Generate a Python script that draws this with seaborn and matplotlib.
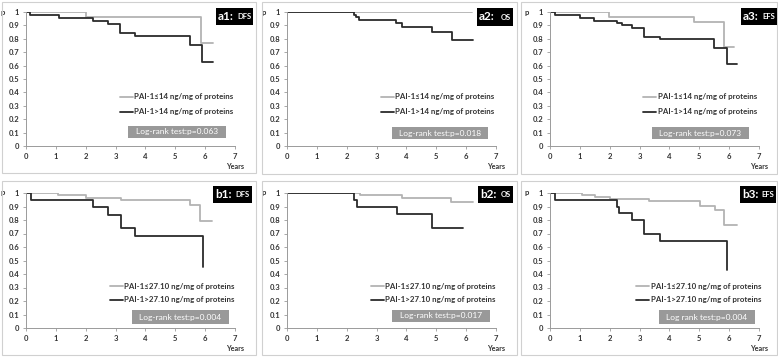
import matplotlib
matplotlib.use('Agg')
import matplotlib.pyplot as plt
from matplotlib.patches import Rectangle
import pandas as pd
import seaborn as sns

sns.set_style('white')
plt.rcParams['font.family'] = ['Lato', 'DejaVu Sans']

# Kaplan-Meier step curves (time in years, survival p)
a1_low_t = [0, 2.0, 5.85, 6.25]
a1_low_s = [1, 0.965, 0.77, 0.77]
a1_high_t = [0, 0.15, 1.1, 2.25, 2.75, 3.15, 3.65, 5.5, 5.9, 6.25]
a1_high_s = [1, 0.975, 0.955, 0.93, 0.91, 0.84, 0.82, 0.755, 0.63, 0.63]

a2_low_t = [0, 6.2]
a2_low_s = [1, 1]
a2_high_t = [0, 2.26, 2.32, 2.42, 3.66, 3.84, 4.85, 5.52, 6.24]
a2_high_s = [1, 0.98, 0.96, 0.94, 0.915, 0.885, 0.85, 0.79, 0.79]

a3_low_t = [0, 1.99, 4.83, 5.83, 6.17]
a3_low_s = [1, 0.965, 0.925, 0.74, 0.74]
a3_high_t = [0, 0.17, 1.0, 1.48, 2.23, 2.4, 2.73, 3.16, 3.68, 5.5, 5.92, 6.25]
a3_high_s = [1, 0.98, 0.955, 0.935, 0.915, 0.9, 0.88, 0.815, 0.795, 0.735, 0.615, 0.615]

b1_low_t = [0, 1.08, 2.0, 3.17, 5.49, 5.83, 6.24]
b1_low_s = [1, 0.985, 0.965, 0.95, 0.91, 0.79, 0.79]
b1_high_t = [0, 0.17, 2.25, 2.73, 3.18, 3.65, 5.92]
b1_high_s = [1, 0.95, 0.895, 0.84, 0.74, 0.68, 0.455]

b2_low_t = [0, 2.43, 3.85, 5.48, 6.24]
b2_low_s = [1, 0.985, 0.965, 0.93, 0.93]
b2_high_t = [0, 2.26, 2.34, 3.68, 4.85, 5.91]
b2_high_s = [1, 0.95, 0.9, 0.845, 0.74, 0.74]

b3_low_t = [0, 1.06, 1.5, 2.0, 3.3, 5.02, 5.52, 5.83, 6.25]
b3_low_s = [1, 0.985, 0.97, 0.955, 0.94, 0.905, 0.875, 0.765, 0.765]
b3_high_t = [0, 0.17, 2.25, 2.32, 2.73, 3.16, 3.68, 5.92]
b3_high_s = [1, 0.95, 0.9, 0.855, 0.8, 0.7, 0.645, 0.43]

panel_ids = ['a1', 'a2', 'a3', 'b1', 'b2', 'b3']
panel_endpoints = ['DFS', 'OS', 'EFS', 'DFS', 'OS', 'EFS']
cutoffs = ['14', '14', '14', '27.10', '27.10', '27.10']
logrank_texts = ['Log-rank test:p=0.063', 'Log-rank test:p=0.018', 'Log-rank test:p=0.073',
                 'Log-rank test:p=0.004', 'Log-rank test:p=0.017', 'Log rank test:p=0.004']
x_ticks = list(range(8))
y_ticks = [i / 10 for i in range(11)]
y_ticklabels = ['0'] + ['%.1f' % v for v in y_ticks[1:-1]] + ['1']

curves = {
    'a1': (a1_low_t, a1_low_s, a1_high_t, a1_high_s),
    'a2': (a2_low_t, a2_low_s, a2_high_t, a2_high_s),
    'a3': (a3_low_t, a3_low_s, a3_high_t, a3_high_s),
    'b1': (b1_low_t, b1_low_s, b1_high_t, b1_high_s),
    'b2': (b2_low_t, b2_low_s, b2_high_t, b2_high_s),
    'b3': (b3_low_t, b3_low_s, b3_high_t, b3_high_s),
}

# layout in pixels: panel frame, axes box, legend x and log-rank box
W, H = 778, 357
frames = [(2, 2, 256, 173), (262, 2, 517, 174), (521, 2, 777, 174),
          (2, 181, 256, 355), (262, 181, 517, 355), (521, 181, 777, 355)]
axes_px = [(26, 12, 235, 146), (287, 12, 496, 146), (550, 12, 759, 146),
           (26, 193, 235, 328), (287, 193, 496, 328), (550, 193, 759, 328)]
tags_px = [(216, 8, 253, 25), (477, 8, 513, 26), (741, 8, 777, 25),
           (213, 186, 252, 203), (478, 186, 513, 203), (740, 186, 776, 203)]
legend_x = [0.45, 0.45, 0.447, 0.40, 0.40, 0.413]
legend_y = [(0.366, 0.254), (0.366, 0.254), (0.366, 0.254),
            (0.31, 0.21), (0.31, 0.21), (0.31, 0.21)]
lr_box = [(0.49, 0.06, 0.465, 0.09), (0.50, 0.05, 0.46, 0.09), (0.49, 0.05, 0.46, 0.09),
          (0.507, 0.03, 0.463, 0.10), (0.50, 0.044, 0.47, 0.091), (0.52, 0.03, 0.46, 0.10)]

light = '#b3b3b3'
dark = '#2b2b2b'
txt = '#333333'

fig = plt.figure(figsize=(W / 100, H / 100), dpi=100)

for i, pid in enumerate(panel_ids):
    fl, ft, fr, fb = frames[i]
    fig.patches.append(Rectangle((fl / W, 1 - fb / H), (fr - fl) / W, (fb - ft) / H,
                                 transform=fig.transFigure, fill=False,
                                 edgecolor='#d0d0d0', linewidth=0.8))
    l, t, r, b = axes_px[i]
    ax = fig.add_axes([l / W, 1 - b / H, (r - l) / W, (b - t) / H])
    lt, ls, ht, hs = curves[pid]
    sns.lineplot(data=pd.DataFrame({'t': lt, 's': ls}), x='t', y='s', ax=ax,
                 drawstyle='steps-post', color=light, linewidth=1.3,
                 estimator=None, sort=False)
    sns.lineplot(data=pd.DataFrame({'t': ht, 's': hs}), x='t', y='s', ax=ax,
                 drawstyle='steps-post', color=dark, linewidth=1.3,
                 estimator=None, sort=False)
    ax.set_xlim(0, 7)
    ax.set_ylim(0, 1)
    ax.set_xticks(x_ticks)
    ax.set_yticks(y_ticks)
    ax.set_yticklabels(y_ticklabels)
    ax.set_xlabel('')
    ax.set_ylabel('')
    ax.patch.set_alpha(0)
    for s in ['top', 'right']:
        ax.spines[s].set_visible(False)
    for s in ['left', 'bottom']:
        ax.spines[s].set_color('#9a9a9a')
        ax.spines[s].set_linewidth(0.7)
    ax.tick_params(axis='both', length=2, width=0.6, color='#9a9a9a',
                   labelsize=5.5, labelcolor=txt, pad=3, direction='out',
                   bottom=True, left=True)
    for lab in ax.get_xticklabels() + ax.get_yticklabels():
        lab.set_fontweight('bold')
    ax.text(-0.1, 1.0, 'p', transform=ax.transAxes, fontsize=5.5, color=txt,
            ha='right', va='center', fontweight='bold')
    ax.text(1.0, -0.155, 'Years', transform=ax.transAxes, fontsize=5.2, color=txt,
            ha='center', va='center', fontweight='bold')

    # legend drawn as plain lines and text
    lx = legend_x[i]
    for yy, col, sign in zip(legend_y[i], [light, dark], ['\u2264', '>']):
        ax.plot([lx, lx + 0.062], [yy, yy], color=col, linewidth=1.3,
                transform=ax.transAxes, clip_on=False)
        ax.text(lx + 0.068, yy, 'PAI-1' + sign + cutoffs[i] + ' ng/mg of proteins',
                transform=ax.transAxes, fontsize=5.7, color=txt,
                fontweight='bold', ha='left', va='center')

    bx, by, bw, bh = lr_box[i]
    ax.add_patch(Rectangle((bx, by), bw, bh, transform=ax.transAxes,
                           facecolor='#999999', edgecolor='none', clip_on=False))
    ax.text(bx + bw / 2, by + bh / 2, logrank_texts[i], transform=ax.transAxes,
            fontsize=6, color='white', ha='center', va='center')

    tl, tt, tr, tb = tags_px[i]
    fig.patches.append(Rectangle((tl / W, 1 - tb / H), (tr - tl) / W, (tb - tt) / H,
                                 transform=fig.transFigure, facecolor='black',
                                 edgecolor='none'))
    cy = 1 - (tt + tb) / 2 / H
    fig.text((tl + 2) / W, cy, pid + ':', fontsize=8.5, color='white',
             fontweight='bold', ha='left', va='center')
    fig.text((tr - 2) / W, cy, panel_endpoints[i], fontsize=5.5, color='white',
             fontweight='bold', ha='right', va='center')

fig.savefig('out.png', dpi=100)
